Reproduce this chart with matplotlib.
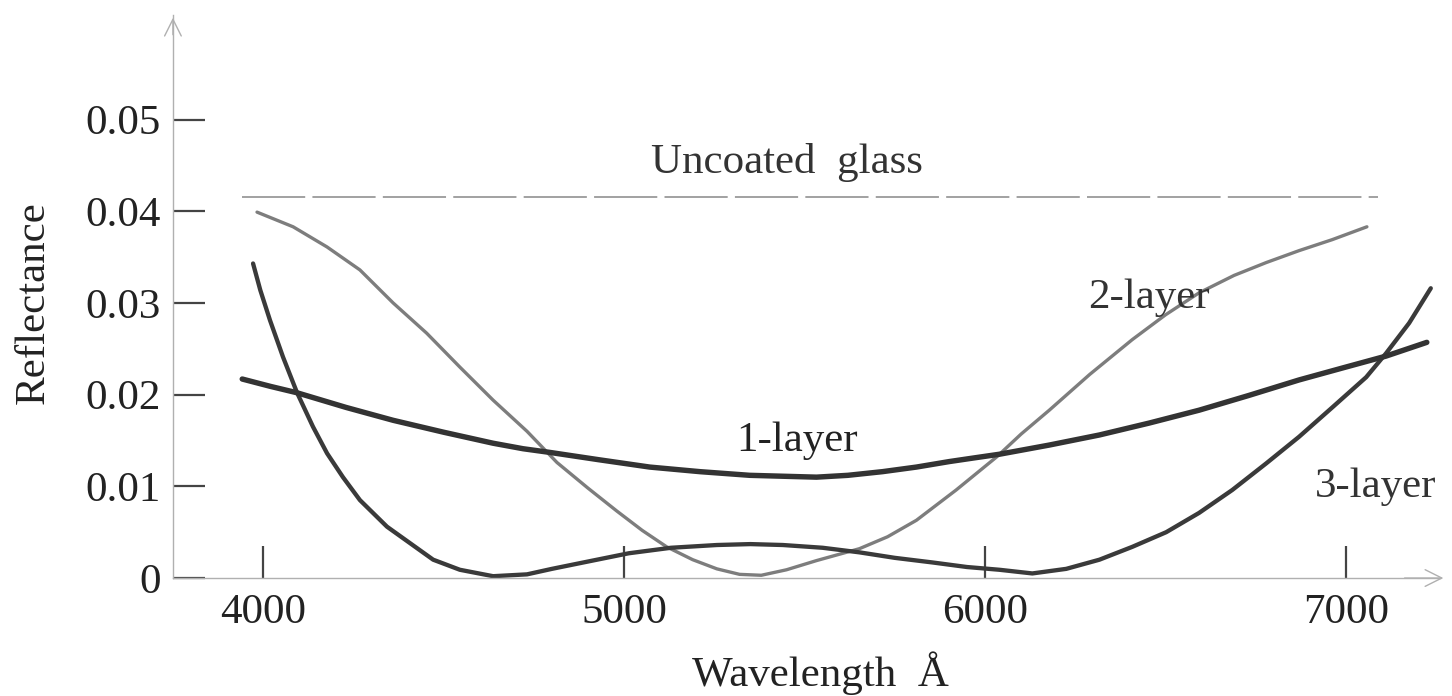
import matplotlib
matplotlib.use("Agg")
import matplotlib.pyplot as plt

# values (wavelength in angstrom, reflectance)
wl_1layer = [3942, 4020, 4094, 4230, 4360, 4500, 4637, 4720, 4794, 4930,
             5071, 5210, 5348, 5440, 5533, 5620, 5716, 5810, 5901, 5970,
             6040, 6178, 6317, 6455, 6593, 6730, 6870, 6990, 7111, 7224]
r_1layer = [0.0217, 0.0209, 0.0202, 0.0186, 0.0172, 0.0159, 0.0147, 0.0141,
            0.0137, 0.0129, 0.0121, 0.0116, 0.0112, 0.0111, 0.0110, 0.0112,
            0.0116, 0.0121, 0.0127, 0.0131, 0.0135, 0.0145, 0.0156, 0.0169,
            0.0183, 0.0199, 0.0216, 0.0229, 0.0242, 0.0257]

wl_2layer = [3983, 4083, 4177, 4268, 4360, 4453, 4545, 4637, 4731, 4814,
             4900, 4980, 5050, 5118, 5190, 5257, 5320, 5380, 5450, 5533,
             5652, 5730, 5810, 5920, 6032, 6100, 6178, 6290, 6408, 6500,
             6593, 6690, 6779, 6870, 6962, 7058]
r_2layer = [0.0399, 0.0383, 0.0361, 0.0336, 0.0300, 0.0267, 0.0230, 0.0194,
            0.0160, 0.0126, 0.0098, 0.0073, 0.0052, 0.0034, 0.0020, 0.0010,
            0.0004, 0.0003, 0.0009, 0.0019, 0.0032, 0.0045, 0.0063, 0.0096,
            0.0132, 0.0157, 0.0183, 0.0222, 0.0260, 0.0287, 0.0311, 0.0330,
            0.0344, 0.0357, 0.0369, 0.0383]

wl_3layer = [3972, 3992, 4019, 4055, 4094, 4138, 4177, 4221, 4268, 4343,
             4407, 4471, 4545, 4637, 4731, 4800, 4900, 5013, 5130, 5257,
             5350, 5440, 5550, 5652, 5750, 5854, 5950, 6040, 6131, 6225,
             6317, 6408, 6502, 6593, 6685, 6779, 6870, 6962, 7056, 7111,
             7175, 7235]
r_3layer = [0.0343, 0.0314, 0.0281, 0.0241, 0.0202, 0.0165, 0.0136, 0.0110,
            0.0085, 0.0056, 0.0038, 0.0020, 0.0009, 0.0002, 0.0004, 0.0010,
            0.0018, 0.0027, 0.0033, 0.0036, 0.0037, 0.0036, 0.0033, 0.0028,
            0.0022, 0.0017, 0.0012, 0.0009, 0.0005, 0.0010, 0.0020, 0.0034,
            0.0050, 0.0071, 0.0096, 0.0125, 0.0154, 0.0186, 0.0219, 0.0245,
            0.0278, 0.0316]

wl_glass = [3940, 7090]
r_glass = [0.0415, 0.0415]

yticks = [0, 0.01, 0.02, 0.03, 0.04, 0.05]
ytick_labels = ["0", "0.01", "0.02", "0.03", "0.04", "0.05"]
xticks = [4000, 5000, 6000, 7000]

serif = ["Liberation Serif", "DejaVu Serif"]
plt.rcParams["font.family"] = serif
FS = 31

fig = plt.figure(figsize=(14.52, 6.96), dpi=100)
ax = fig.add_axes([0.1191, 0.1695, 0.8725, 0.809])

ax.plot(wl_glass, r_glass, color="#9a9a9a", lw=1.3, dashes=(35, 4))
ax.plot(wl_2layer, r_2layer, color="#7d7d7d", lw=2.4,
        solid_capstyle="round", solid_joinstyle="round")
ax.plot(wl_3layer, r_3layer, color="#3a3a3a", lw=3.1,
        solid_capstyle="round", solid_joinstyle="round")
ax.plot(wl_1layer, r_1layer, color="#333333", lw=3.9,
        solid_capstyle="round", solid_joinstyle="round")

ax.set_xlim(3750, 7260)
ax.set_ylim(0, 0.0614)

for side in ["top", "right"]:
    ax.spines[side].set_visible(False)
for side in ["left", "bottom"]:
    ax.spines[side].set_color("#b0b0b0")
    ax.spines[side].set_linewidth(1.0)

# open arrow heads at the axis ends
ax.annotate("", xy=(0, 1.0), xytext=(0, 0.96), xycoords="axes fraction",
            arrowprops=dict(arrowstyle="->", color="#b0b0b0", lw=1.0,
                            mutation_scale=30))
ax.annotate("", xy=(1.005, 0), xytext=(0.97, 0), xycoords="axes fraction",
            arrowprops=dict(arrowstyle="->", color="#b0b0b0", lw=1.0,
                            mutation_scale=30))

ax.set_yticks(yticks)
ax.set_yticklabels(ytick_labels)
ax.set_xticks(xticks)
ax.tick_params(direction="in", length=23, width=1.6, color="#444444",
               labelsize=FS, labelcolor="#222222")
ax.tick_params(axis="y", pad=9)
ax.tick_params(axis="x", pad=11)

ax.text(5450, 0.0453, "Uncoated  glass", fontsize=FS, ha="center",
        va="center", color="#333333")
ax.text(6455, 0.0306, "2-layer", fontsize=FS, ha="center", va="center",
        color="#333333")
ax.text(5478, 0.0150, "1-layer", fontsize=FS, ha="center", va="center",
        color="#222222")
ax.text(7083, 0.0099, "3-layer", fontsize=FS, ha="center", va="center",
        color="#333333")

fig.text(34 / 1452, 1 - 303 / 696, "Reflectance", fontsize=FS,
         rotation=90, ha="center", va="center", color="#222222")
fig.text(820 / 1452, 1 - 673 / 696, "Wavelength  Å", fontsize=FS,
         ha="center", va="center", color="#222222")

fig.savefig("out.png", dpi=100)
